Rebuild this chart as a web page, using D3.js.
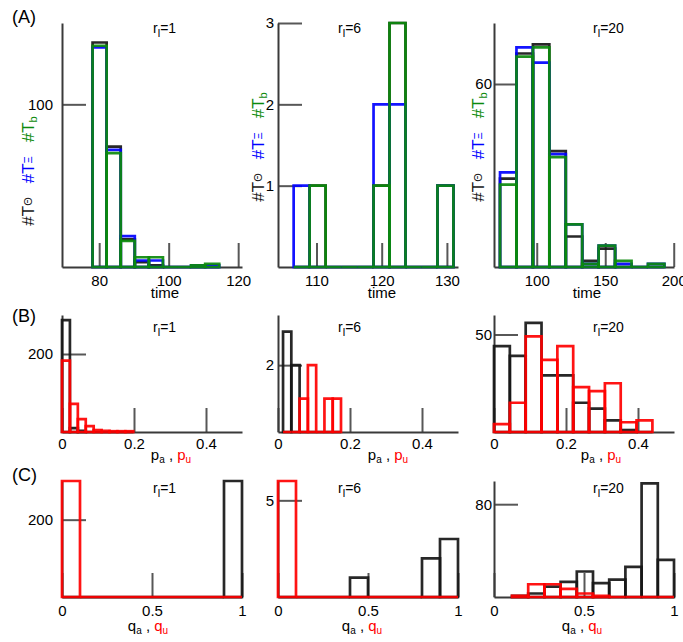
<!DOCTYPE html>
<html>
<head>
<meta charset="utf-8">
<script src="https://cdn.jsdelivr.net/npm/d3@7"></script>
<style>
body { margin: 0; background: #fff; }
svg { display: block; font-family: "Liberation Sans", Arial, sans-serif; }
</style>
</head>
<body>
<div id="chart"></div>
<script>
var WIDTH = 683;
var HEIGHT = 642;

// (A) time histograms, one edge list per panel, counts per series
var a1Edges = [78.1, 82.15, 86.2, 90.25, 94.3, 98.35, 102.4, 106.45, 110.5, 114.55];
var a1Theta = [138, 74, 17, 3, 1, 0, 0, 0, 0];
var a1Xi    = [135, 72, 19, 4, 4, 0, 0, 1, 1];
var a1B     = [136, 70, 16, 6, 6, 0, 0, 1, 2];

var a2Edges = [106.5, 108.95, 111.4, 113.85, 116.3, 118.75, 121.2, 123.65, 126.1, 128.55, 131.0];
var a2Theta = [0, 1, 0, 0, 0, 1, 3, 0, 0, 1];
var a2Xi    = [1, 0, 0, 0, 0, 2, 2, 0, 0, 1];
var a2B     = [0, 1, 0, 0, 0, 1, 3, 0, 0, 1];

var a3Edges = [73.2, 85.2, 97.2, 109.2, 121.2, 133.2, 145.2, 157.2, 169.2, 181.2, 193.2];
var a3Theta = [29, 70, 73, 38, 10, 2, 6, 0, 0, 0];
var a3Xi    = [31, 72, 67, 37, 14, 1, 7, 1, 0, 1];
var a3B     = [27, 69, 72, 36, 14, 1, 7, 2, 0, 1];

// (B) p_a (black) and p_u (red)
var b1Edges = [0, 0.022, 0.044, 0.066, 0.088, 0.11, 0.132, 0.154, 0.176, 0.198];
var b1Pa = [287, 10, 3, 0, 0, 0, 0, 0, 0];
var b1Pu = [183, 72, 33, 15, 5, 3, 2, 2, 2];

var b2Edges = [0.014, 0.037, 0.06, 0.083, 0.106, 0.129, 0.152, 0.175];
var b2Pa = [3, 2, 0, 0, 0, 0, 0];
var b2Pu = [0, 0, 1, 2, 0, 1, 1];

var b3Edges = [0, 0.044, 0.088, 0.132, 0.176, 0.22, 0.264, 0.308, 0.352, 0.396, 0.44];
var b3Pa = [44, 39, 56, 29, 29, 15, 12, 6, 1, 0];
var b3Pu = [4, 15, 49, 37, 44, 23, 21, 25, 5, 6];

// (C) q_a (black) and q_u (red)
var c1Edges = [0, 0.1, 0.2, 0.3, 0.4, 0.5, 0.6, 0.7, 0.8, 0.9, 1.0];
var c1Qa = [0, 0, 0, 0, 0, 0, 0, 0, 0, 300];
var c1Qu = [300, 0, 0, 0, 0, 0, 0, 0, 0, 0];

var c2Edges = [0, 0.1, 0.2, 0.3, 0.4, 0.5, 0.6, 0.7, 0.8, 0.9, 1.0];
var c2Qa = [0, 0, 0, 0, 1, 0, 0, 0, 2, 3];
var c2Qu = [6, 0, 0, 0, 0, 0, 0, 0, 0, 0];

var c3Edges = [0.1, 0.19, 0.28, 0.37, 0.46, 0.55, 0.64, 0.73, 0.82, 0.91, 1.0];
var c3Qa = [1, 3, 9, 13, 22, 12, 15, 26, 98, 32];
var c3Qu = [1, 11, 11, 7, 3, 1, 0, 0, 0, 0];

var rlValues = ["1", "6", "20"];
var xTicksA = [[80, 100, 120], [110, 120, 130], [100, 150, 200]];
var yTicksA = [[100], [1, 2, 3], [60]];
var xTicksB = [0, 0.2, 0.4];
var yTicksB = [[200], [2], [50]];
var xTicksC = [0, 0.5, 1];
var yTicksC = [[200], [5], [80]];

var BLACK = "#161616";
var BLUE = "#0000ff";
var GREEN = "#0c8a0c";
var RED = "#ff0000";
var AXIS = "#3a3a3a";

var COL_LEFT = [62, 278, 494];
var PANEL_W = 180;
var ROW_Y = { A: [23, 267], B: [315, 432], C: [481, 597] };
var Y_PAD = [9, 4, 2];
var X_PAD = { A: 8, B: 6, C: 8 };
var TITLE_DX = [91, 60, 99];
var TITLE_Y = { A: 33, B: 332, C: 493 };

var panels = [
    { row: "A", col: 0, xDom: [69.3, 121.1], yDom: [0, 150], xTicks: xTicksA[0], yTicks: yTicksA[0],
      edges: a1Edges, series: [[a1Theta, BLACK], [a1Xi, BLUE], [a1B, GREEN]] },
    { row: "A", col: 1, xDom: [104.1, 131.7], yDom: [0, 3], xTicks: xTicksA[1], yTicks: yTicksA[1],
      edges: a2Edges, series: [[a2Theta, BLACK], [a2Xi, BLUE], [a2B, GREEN]] },
    { row: "A", col: 2, xDom: [68.8, 200.2], yDom: [0, 80], xTicks: xTicksA[2], yTicks: yTicksA[2],
      edges: a3Edges, series: [[a3Theta, BLACK], [a3Xi, BLUE], [a3B, GREEN]] },
    { row: "B", col: 0, xDom: [0, 0.5], yDom: [0, 300], xTicks: xTicksB, yTicks: yTicksB[0],
      edges: b1Edges, series: [[b1Pa, BLACK], [b1Pu, RED]] },
    { row: "B", col: 1, xDom: [0, 0.5], yDom: [0, 3.5], xTicks: xTicksB, yTicks: yTicksB[1],
      edges: b2Edges, series: [[b2Pa, BLACK], [b2Pu, RED]] },
    { row: "B", col: 2, xDom: [0, 0.5], yDom: [0, 60], xTicks: xTicksB, yTicks: yTicksB[2],
      edges: b3Edges, series: [[b3Pa, BLACK], [b3Pu, RED]] },
    { row: "C", col: 0, xDom: [0, 1], yDom: [0, 300], xTicks: xTicksC, yTicks: yTicksC[0],
      edges: c1Edges, series: [[c1Qa, BLACK], [c1Qu, RED]] },
    { row: "C", col: 1, xDom: [0, 1], yDom: [0, 6], xTicks: xTicksC, yTicks: yTicksC[1],
      edges: c2Edges, series: [[c2Qa, BLACK], [c2Qu, RED]] },
    { row: "C", col: 2, xDom: [0, 1], yDom: [0, 100], xTicks: xTicksC, yTicks: yTicksC[2],
      edges: c3Edges, series: [[c3Qa, BLACK], [c3Qu, RED]] }
];

var svg = d3.select("#chart").append("svg")
    .attr("width", WIDTH)
    .attr("height", HEIGHT);

function styleAxis(g) {
    g.attr("font-size", 15).attr("font-family", "Liberation Sans, Arial, sans-serif");
    g.select(".domain").attr("stroke", AXIS).attr("stroke-width", 2);
    g.selectAll(".tick line").attr("stroke", AXIS).attr("stroke-width", 2).attr("stroke-opacity", 0.85);
    g.selectAll(".tick text").attr("fill", "#000");
}

function drawHist(g, x, y, edges, counts, color) {
    for (var i = 0; i < counts.length; i++) {
        var x0 = x(edges[i]), x1 = x(edges[i + 1]);
        var y0 = y(0), y1 = y(counts[i]);
        g.append("path")
            .attr("d", "M" + x0 + "," + y0 + "V" + y1 + "H" + x1 + "V" + y0 + "Z")
            .attr("fill", "none")
            .attr("stroke", color)
            .attr("stroke-width", 2.7)
            .attr("stroke-opacity", 0.92);
    }
}

function drawPanel(p) {
    var left = COL_LEFT[p.col];
    var top = ROW_Y[p.row][0], bottom = ROW_Y[p.row][1];
    var x = d3.scaleLinear().domain(p.xDom).range([left, left + PANEL_W]);
    var y = d3.scaleLinear().domain(p.yDom).range([bottom, top]);

    var gx = svg.append("g").attr("transform", "translate(0," + bottom + ")")
        .call(d3.axisBottom(x).tickValues(p.xTicks).tickSize(-24).tickSizeOuter(0)
            .tickPadding(X_PAD[p.row]).tickFormat(d3.format("")));
    styleAxis(gx);
    var gy = svg.append("g").attr("transform", "translate(" + left + ",0)")
        .call(d3.axisLeft(y).tickValues(p.yTicks).tickSize(-24).tickSizeOuter(0)
            .tickPadding(Y_PAD[p.col]).tickFormat(d3.format("")));
    styleAxis(gy);

    var bars = svg.append("g");
    p.series.forEach(function (s) {
        drawHist(bars, x, y, p.edges, s[0], s[1]);
    });

    var title = svg.append("text")
        .attr("x", left + TITLE_DX[p.col])
        .attr("y", TITLE_Y[p.row])
        .attr("font-size", 14);
    title.append("tspan").text("r");
    title.append("tspan").attr("font-size", 11).attr("dy", 4).text("l");
    title.append("tspan").attr("dy", -4).text("=" + rlValues[p.col]);
}

panels.forEach(drawPanel);

// panel letters
[["(A)", 23], ["(B)", 321.5], ["(C)", 481]].forEach(function (d) {
    svg.append("text").attr("x", 12).attr("y", d[1]).attr("font-size", 18).text(d[0]);
});

// row A y labels (rotated, three coloured parts)
var yLabelPos = [[34, 171], [263.5, 147], [484, 147]];
var yParts = [["\u0398", BLACK, -2], ["\u039E", BLUE, -2], ["b", GREEN, 3]];
yLabelPos.forEach(function (pos) {
    var t = svg.append("text")
        .attr("transform", "translate(" + pos[0] + "," + pos[1] + ") rotate(-90)")
        .attr("text-anchor", "middle")
        .attr("font-size", 17);
    var prevDy = 0;
    yParts.forEach(function (part, i) {
        t.append("tspan").attr("fill", part[1]).attr("dx", i ? 14 : 0).attr("dy", -prevDy).text("#T");
        t.append("tspan").attr("fill", part[1]).attr("font-size", 11).attr("dy", part[2]).text(part[0]);
        prevDy = part[2];
    });
});

// x labels
var timeX = [165, 382, 587];
timeX.forEach(function (cx) {
    svg.append("text").attr("x", cx).attr("y", 298).attr("text-anchor", "middle")
        .attr("font-size", 15).text("time");
});

function pairLabel(cx, cy, letter, subA, subU) {
    var t = svg.append("text").attr("x", cx).attr("y", cy).attr("text-anchor", "middle")
        .attr("font-size", 15);
    t.append("tspan").attr("fill", "#000").text(letter);
    t.append("tspan").attr("fill", "#000").attr("font-size", 10).attr("dy", 3).text(subA);
    t.append("tspan").attr("fill", "#000").attr("dy", -3).text(" , ");
    t.append("tspan").attr("fill", RED).text(letter);
    t.append("tspan").attr("fill", RED).attr("font-size", 10).attr("dy", 3).text(subU);
}
[171, 388, 601].forEach(function (cx) { pairLabel(cx, 460, "p", "a", "u"); });
[148, 362, 582].forEach(function (cx) { pairLabel(cx, 631, "q", "a", "u"); });
</script>
</body>
</html>
